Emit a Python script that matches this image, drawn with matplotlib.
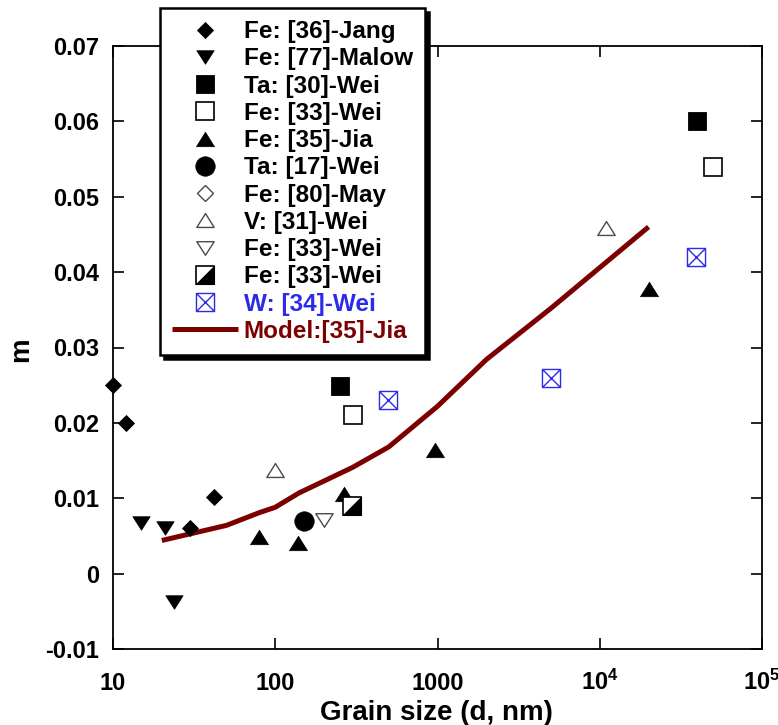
import matplotlib
matplotlib.use("Agg")
import matplotlib.pyplot as plt
from matplotlib.path import Path
from matplotlib.ticker import NullLocator, FixedLocator, FixedFormatter
from matplotlib.legend_handler import HandlerTuple

plt.rcParams['font.family'] = ['Liberation Sans', 'DejaVu Sans']
plt.rcParams['font.weight'] = 'bold'
plt.rcParams['mathtext.fontset'] = 'custom'
plt.rcParams['mathtext.rm'] = 'Liberation Sans:bold'
plt.rcParams['mathtext.it'] = 'Liberation Sans:bold'
plt.rcParams['mathtext.bf'] = 'Liberation Sans:bold'

# ---------------- data ----------------
jang_d = [10, 12, 30, 42]
jang_m = [0.0250, 0.0200, 0.0060, 0.0101]

malow_d = [14.9, 20.9, 23.8]
malow_m = [0.0067, 0.0061, -0.0037]

ta30_d = [252, 40000]
ta30_m = [0.0249, 0.0600]

fe33sq_d = [300, 50000]
fe33sq_m = [0.0210, 0.0539]

jia_d = [79, 138, 264, 970, 20000]
jia_m = [0.0049, 0.0040, 0.0105, 0.0164, 0.0378]

ta17_d = [150]
ta17_m = [0.0070]

may_d = [300]
may_m = [0.0088]

v31_d = [100, 11000]
v31_m = [0.0138, 0.0458]

fe33v_d = [199]
fe33v_m = [0.0071]

fe33half_d = [297]
fe33half_m = [0.0090]

w34_d = [493, 4990, 39400]
w34_m = [0.0230, 0.0260, 0.0420]

model_d = [20, 50, 80, 100, 140, 300, 500, 1000, 2000, 5000, 10000, 20000]
model_m = [0.0044, 0.0064, 0.0081, 0.0088, 0.0107, 0.0141, 0.0168, 0.0222,
           0.0284, 0.0352, 0.0406, 0.0460]

labels = ['Fe: [36]-Jang', 'Fe: [77]-Malow', 'Ta: [30]-Wei', 'Fe: [33]-Wei',
          'Fe: [35]-Jia', 'Ta: [17]-Wei', 'Fe: [80]-May', 'V: [31]-Wei',
          'Fe: [33]-Wei', 'Fe: [33]-Wei', 'W: [34]-Wei', 'Model:[35]-Jia']

xticks = [10, 100, 1000, 1e4, 1e5]
xticklabels = ['10', '100', '1000', '$10^4$', '$10^5$']
yticks = [-0.01, 0.0, 0.01, 0.02, 0.03, 0.04, 0.05, 0.06, 0.07]
yticklabels = ['-0.01', '0', '0.01', '0.02', '0.03', '0.04', '0.05', '0.06', '0.07']

# ---------------- markers ----------------
tri_up = Path([(-1, -0.8), (1, -0.8), (0, 0.8), (-1, -0.8)], closed=True)
tri_dn = Path([(-1, 0.78), (1, 0.78), (0, -0.78), (-1, 0.78)], closed=True)
half_tri = Path([(-1, -1), (1, -1), (1, 1), (-1, -1)], closed=True)
boxx = Path([(-1, -1), (1, -1), (1, 1), (-1, 1), (-1, -1),
             (-1, -1), (1, 1), (-1, 1), (1, -1)],
            [Path.MOVETO, Path.LINETO, Path.LINETO, Path.LINETO, Path.CLOSEPOLY,
             Path.MOVETO, Path.LINETO, Path.MOVETO, Path.LINETO])

BLUE = '#2b2be8'
DRED = '#7d0000'
GRAY = '#4a4a4a'

fig = plt.figure(figsize=(7.78, 7.25), dpi=100)
ax = fig.add_axes([113 / 778, 1 - 649 / 725, (762 - 113) / 778, (649 - 46) / 725])
ax.set_xscale('log')

h_model, = ax.plot(model_d, model_m, '-', color=DRED, lw=3.6, zorder=2,
                   solid_capstyle='butt', solid_joinstyle='round')
h_jang, = ax.plot(jang_d, jang_m, 'D', ls='none', ms=8.6, mfc='k', mec='k', mew=0.6,
                  zorder=3, clip_on=False)
h_malow, = ax.plot(malow_d, malow_m, marker=tri_dn, ls='none', ms=12.5, mfc='k',
                   mec='k', mew=0.5, zorder=3)
h_ta30, = ax.plot(ta30_d, ta30_m, 's', ls='none', ms=13.3, mfc='k', mec='k', mew=0.6,
                  zorder=3)
h_fe33sq, = ax.plot(fe33sq_d, fe33sq_m, 's', ls='none', ms=12.8, mfc='white', mec='k',
                    mew=1.2, zorder=3)
h_jia, = ax.plot(jia_d, jia_m, marker=tri_up, ls='none', ms=13, mfc='k', mec='k',
                 mew=0.5, zorder=3)
h_ta17, = ax.plot(ta17_d, ta17_m, 'o', ls='none', ms=14, mfc='k', mec='k', mew=0.5,
                  zorder=3)
h_may, = ax.plot(may_d, may_m, 'D', ls='none', ms=8.6, mfc='white', mec=GRAY, mew=1.0,
                 zorder=3)
h_v31, = ax.plot(v31_d, v31_m, marker=tri_up, ls='none', ms=12.5, mfc='white', mec=GRAY,
                 mew=1.0, zorder=3)
h_fe33v, = ax.plot(fe33v_d, fe33v_m, marker=tri_dn, ls='none', ms=12.5, mfc='white',
                   mec=GRAY, mew=1.0, zorder=3)
h_half_a, = ax.plot(fe33half_d, fe33half_m, 's', ls='none', ms=12.8, mfc='white',
                    mec='k', mew=1.2, zorder=4)
h_half_b, = ax.plot(fe33half_d, fe33half_m, marker=half_tri, ls='none', ms=12.8,
                    mfc='k', mec='k', mew=0.8, zorder=4)
h_w34, = ax.plot(w34_d, w34_m, marker=boxx, ls='none', ms=13, mfc='none', mec=BLUE,
                 mew=1.0, zorder=3)

# ---------------- axes ----------------
ax.set_xlim(10, 1e5)
ax.set_ylim(-0.01, 0.07)
ax.xaxis.set_major_locator(FixedLocator(xticks))
ax.xaxis.set_major_formatter(FixedFormatter(xticklabels))
ax.xaxis.set_minor_locator(NullLocator())
ax.yaxis.set_major_locator(FixedLocator(yticks))
ax.yaxis.set_major_formatter(FixedFormatter(yticklabels))
ax.yaxis.set_minor_locator(NullLocator())
ax.tick_params(which='major', direction='in', length=8, width=1.2,
               top=True, right=True, labelsize=17)
ax.tick_params(axis='y', pad=10)
ax.tick_params(axis='x', pad=29.5)
for lab in ax.get_xticklabels():
    lab.set_va('baseline')
    lab.set_fontweight('bold')
for lab in ax.get_yticklabels():
    lab.set_fontweight('bold')
for s in ax.spines.values():
    s.set_linewidth(1.3)

fig.text(21 / 778, 1 - 350 / 725, 'm', rotation=90, ha='center', va='center',
         fontsize=20, fontweight='bold')
fig.text(436 / 778, 1 - 720 / 725, 'Grain size (d, nm)', ha='center', va='baseline',
         fontsize=20, fontweight='bold')

# ---------------- legend ----------------
handles = [h_jang, h_malow, h_ta30, h_fe33sq, h_jia, h_ta17, h_may, h_v31, h_fe33v,
           (h_half_a, h_half_b), h_w34, h_model]
leg = fig.legend(handles, labels, loc='upper left',
                 bbox_to_anchor=(160 / 778, 1 - 8 / 725), bbox_transform=fig.transFigure,
                 borderaxespad=0, fancybox=False, framealpha=1, edgecolor='k',
                 shadow={'ox': 2.6, 'oy': -2.6, 'color': 'k', 'alpha': 1},
                 prop={'size': 17.5, 'weight': 'bold'}, numpoints=1,
                 handlelength=2.7, handletextpad=0.25, borderpad=0.5,
                 labelspacing=0.175,
                 handler_map={tuple: HandlerTuple(ndivide=1)})
leg.get_frame().set_linewidth(1.8)
leg.get_texts()[10].set_color(BLUE)
leg.get_texts()[11].set_color(DRED)

fig.savefig('out.png', dpi=100)
